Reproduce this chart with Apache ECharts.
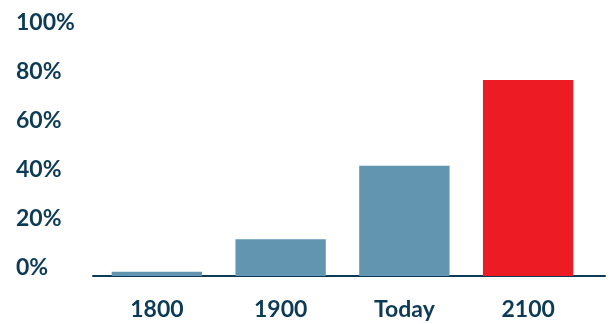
<!DOCTYPE html>
<html>
<head>
<meta charset="utf-8">
<script src="https://cdn.jsdelivr.net/npm/echarts@6/dist/echarts.min.js"></script>
<style>
html, body { margin: 0; padding: 0; background: #ffffff; }
#chart { width: 613px; height: 324px; }
</style>
</head>
<body>
<div id="chart"></div>
<script>
const categories = ['1800', '1900', 'Today', '2100'];
const shares = [1.7, 15, 45, 80];
const barColors = ['#6195b0', '#6195b0', '#6195b0', '#ed1c24'];
const yMin = 0;
const yMax = 100;
const yStep = 20;

const textColor = '#0d3b56';
const fontFamily = 'Lato';

const chart = echarts.init(document.getElementById('chart'), null, { renderer: 'canvas' });

const option = {
  animation: false,
  grid: [
    { left: 95, right: 23, top: 31, bottom: 48 },
    // wider grid only used to draw the baseline, which runs past the bars
    { left: 93, right: 8, top: 31, bottom: 48 }
  ],
  xAxis: [
    {
      type: 'category',
      gridIndex: 0,
      data: categories,
      axisLine: { show: false },
      axisTick: { show: false },
      axisLabel: {
        margin: 22,
        color: textColor,
        fontFamily: fontFamily,
        fontWeight: 'bold',
        fontSize: 23
      }
    },
    {
      type: 'value',
      gridIndex: 1,
      min: 0,
      max: 1,
      axisLine: { show: true, lineStyle: { color: textColor, width: 2 } },
      axisTick: { show: false },
      axisLabel: { show: false },
      splitLine: { show: false }
    }
  ],
  yAxis: [
    {
      type: 'value',
      gridIndex: 0,
      min: yMin,
      max: yMax,
      interval: yStep,
      axisLine: { show: false },
      axisTick: { show: false },
      splitLine: { show: false },
      axisLabel: {
        formatter: '{value}%',
        align: 'left',
        verticalAlign: 'bottom',
        lineHeight: 16,
        margin: 79,
        color: textColor,
        fontFamily: fontFamily,
        fontWeight: 'bold',
        fontSize: 23
      }
    },
    {
      type: 'value',
      gridIndex: 1,
      show: false
    }
  ],
  series: [
    {
      type: 'bar',
      xAxisIndex: 0,
      yAxisIndex: 0,
      barCategoryGap: '27%',
      data: shares.map((v, i) => ({ value: v, itemStyle: { color: barColors[i] } }))
    }
  ]
};

chart.setOption(option);
</script>
</body>
</html>
